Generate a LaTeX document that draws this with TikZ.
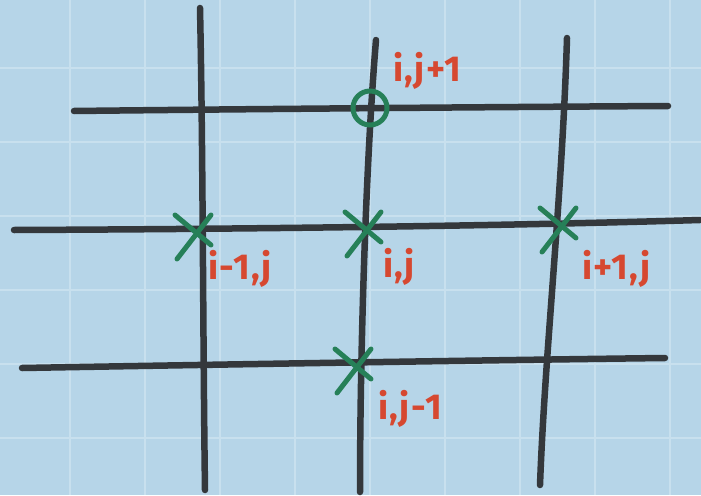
\documentclass[tikz,border=0pt]{standalone}
\usepackage{fontspec}
\usetikzlibrary{calc}
\setmainfont{Fira Sans}
\definecolor{paper}{RGB}{182,213,232}
\definecolor{gridw}{RGB}{200,224,238}
\definecolor{ink}{RGB}{52,56,60}
\definecolor{greenink}{RGB}{38,128,88}
\definecolor{redink}{RGB}{214,72,48}
\begin{document}
\begin{tikzpicture}[x=1pt,y=-1pt,
  pen/.style={draw=ink,line width=6.5pt,line cap=round,line join=round},
  gpen/.style={draw=greenink,line width=5pt,line cap=round},
  lbl/.style={text=redink,font=\fontsize{36}{36}\selectfont\bfseries\addfontfeature{LetterSpace=4},inner sep=0pt,anchor=north west}]
\fill[paper] (0,0) rectangle (701,495);
\useasboundingbox (0,0) rectangle (701,495);
% grid paper
\foreach \x in {70,145,220,295,370,445,520,595,670}
  \draw[gridw,line width=1.2pt] (\x,0) -- (\x,495);
\foreach \y in {68,142,216,290,364,438}
  \draw[gridw,line width=1.2pt] (0,\y) -- (701,\y);
% mesh lines
\draw[pen] (200,8) .. controls (203,150) and (203,350) .. (205,490);
\draw[pen] (376,40) .. controls (366,160) and (360,350) .. (360,492);
\draw[pen] (567,38) .. controls (562,200) and (545,350) .. (540,485);
\draw[pen] (74,111) .. controls (250,109) and (500,107) .. (668,106);
\draw[pen] (14,230) .. controls (250,229) and (500,226) .. (700,220);
\draw[pen] (22,368) .. controls (250,364) and (500,360) .. (665,358);
% nodes
\coordinate (A) at (195,231);
\coordinate (B) at (365,228);
\coordinate (C) at (560,224);
\coordinate (D) at (355,365);
\coordinate (E) at (370,108);
\draw[gpen] (E) circle (17);
\foreach \p in {A,B,C,D}{
  \draw[gpen] ($(\p)+(-20,-16)$) -- ($(\p)+(16,14)$);
  \draw[gpen] ($(\p)+(16,-16)$) -- ($(\p)+(-18,28)$);
}
% labels
\node[lbl] (lE) at (393,52) {i,j+1};
\node[lbl] (lA) at (208,250) {i-1,j};
\node[lbl] (lB) at (383,248) {i,j};
\node[lbl] (lC) at (582,250) {i+1,j};
\node[lbl] (lD) at (378,390) {i,j-1};
\end{tikzpicture}
\end{document}
